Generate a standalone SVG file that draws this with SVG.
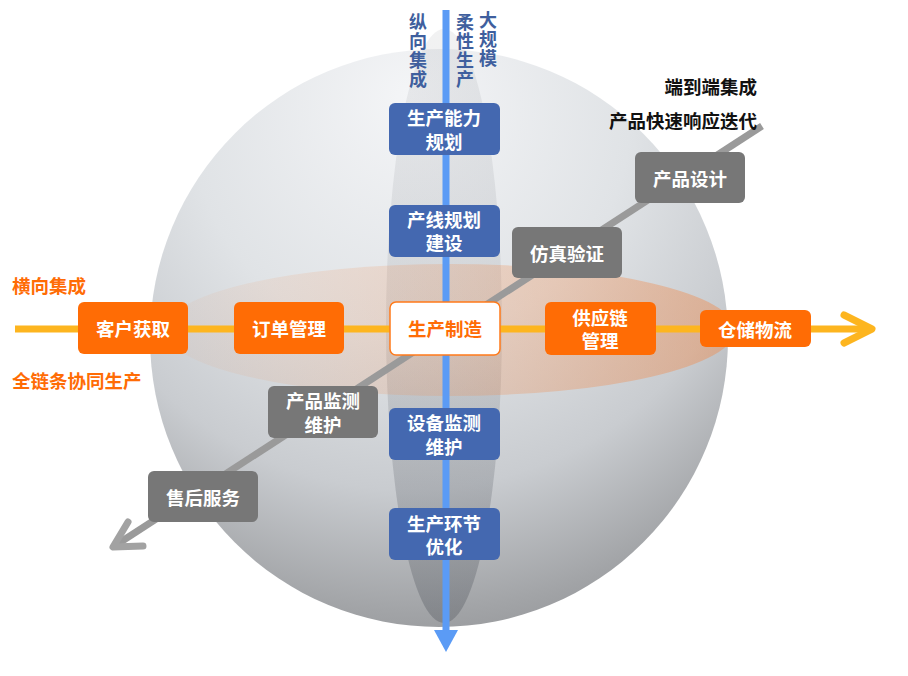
<svg xmlns="http://www.w3.org/2000/svg" width="908" height="676" viewBox="0 0 908 676">
  <defs>
    <radialGradient id="sphereGrad" cx="0.45" cy="0.18" r="0.95" fx="0.45" fy="0.08">
      <stop offset="0" stop-color="#f4f5f7"/>
      <stop offset="0.4" stop-color="#e0e3e6"/>
      <stop offset="0.65" stop-color="#c9ccd0"/>
      <stop offset="0.85" stop-color="#a2a4a7"/>
      <stop offset="1" stop-color="#88898c"/>
    </radialGradient>
    <linearGradient id="vGrad" x1="0" y1="0" x2="0" y2="1">
      <stop offset="0" stop-color="#3a3f48" stop-opacity="0.07"/>
      <stop offset="0.5" stop-color="#3a3f48" stop-opacity="0.1"/>
      <stop offset="1" stop-color="#3a3f48" stop-opacity="0.28"/>
    </linearGradient>
    <linearGradient id="hGrad" x1="0" y1="0" x2="1" y2="0">
      <stop offset="0" stop-color="#f08a4b" stop-opacity="0.05"/>
      <stop offset="0.5" stop-color="#f08a4b" stop-opacity="0.22"/>
      <stop offset="1" stop-color="#f08a4b" stop-opacity="0.45"/>
    </linearGradient>
    <style>
      text { font-family: "Liberation Sans", "Noto Sans CJK SC", sans-serif; font-weight: 700; font-size: 18.5px; }
      .nt { fill: #ffffff; text-anchor: middle; dominant-baseline: central; }
      .orange rect { fill: #ff6c05; }
      .blue rect { fill: #4468b0; }
      .gray rect { fill: #777777; }
      .center rect { fill: #ffffff; stroke: #ff7a1a; stroke-width: 1.5; }
      .center text { fill: #ff6c05; }
      .lblO { fill: #ff6c05; dominant-baseline: central; }
      .lblB { fill: #3f5f9e; writing-mode: vertical-rl; letter-spacing: 1px; font-size: 18px; font-family: "Noto Sans CJK SC", sans-serif; }
      .lblK { fill: #111111; text-anchor: end; dominant-baseline: central; }
    </style>
  </defs>

  <g id="sphere">
    <circle cx="439" cy="338" r="289" fill="url(#sphereGrad)"/>
  </g>
  <g id="vertical-disc">
    <ellipse cx="444" cy="326" rx="58" ry="297" fill="url(#vGrad)"/>
  </g>
  <g id="horizontal-disc">
    <ellipse cx="450" cy="330" rx="285" ry="66" fill="url(#hGrad)"/>
  </g>

  <g id="connectors" fill="none" stroke-linecap="round" stroke-linejoin="round">
    <line x1="762" y1="126" x2="116" y2="545" stroke="#9a9a9a" stroke-width="7" stroke-linecap="butt"/>
    <polyline points="128,522 113,547 143,546" stroke="#a2a2a2" stroke-width="7"/>
    <line x1="15" y1="329" x2="868" y2="329" stroke="#fdb51f" stroke-width="7" stroke-linecap="butt"/>
    <polyline points="844,315 872,329 844,343" stroke="#fdb51f" stroke-width="7"/>
    <line x1="446" y1="10" x2="446" y2="632" stroke="#5b9bf5" stroke-width="7" stroke-linecap="butt"/>
    <polygon points="434,630 458,630 446,652" fill="#5b9bf5" stroke="none"/>
  </g>

  <g id="labels">
    <text class="lblB" x="418" y="13">纵向集成</text>
    <text class="lblB" x="465" y="13">柔性生产</text>
    <text class="lblB" x="488" y="11">大规模</text>
    <text class="lblK" x="757" y="87">端到端集成</text>
    <text class="lblK" x="757" y="121">产品快速响应迭代</text>
    <text class="lblO" x="12" y="286">横向集成</text>
    <text class="lblO" x="12" y="381">全链条协同生产</text>
  </g>

  <g id="n-kehu" class="orange"><rect x="78" y="302" width="110" height="52" rx="6"/><text class="nt" x="133" y="329">客户获取</text></g>
  <g id="n-dingdan" class="orange"><rect x="234" y="302" width="110" height="52" rx="6"/><text class="nt" x="289" y="329">订单管理</text></g>
  <g id="n-zhizao" class="center"><rect x="390" y="302" width="110" height="53" rx="6"/><text class="nt" x="445" y="329">生产制造</text></g>
  <g id="n-gongying" class="orange"><rect x="545" y="302" width="111" height="53" rx="6"/><text class="nt" x="600" y="318">供应链<tspan x="600" dy="23">管理</tspan></text></g>
  <g id="n-cangchu" class="orange"><rect x="700" y="310" width="111" height="37" rx="6"/><text class="nt" x="755" y="330">仓储物流</text></g>

  <g id="n-nengli" class="blue"><rect x="389" y="103" width="111" height="52" rx="6"/><text class="nt" x="444" y="118.5">生产能力<tspan x="444" dy="23">规划</tspan></text></g>
  <g id="n-chanxian" class="blue"><rect x="389" y="205" width="111" height="52" rx="6"/><text class="nt" x="444" y="220">产线规划<tspan x="444" dy="23">建设</tspan></text></g>
  <g id="n-shebei" class="blue"><rect x="389" y="408" width="111" height="52" rx="6"/><text class="nt" x="444" y="423.5">设备监测<tspan x="444" dy="23">维护</tspan></text></g>
  <g id="n-huanjie" class="blue"><rect x="389" y="508" width="111" height="52" rx="6"/><text class="nt" x="444" y="524">生产环节<tspan x="444" dy="23">优化</tspan></text></g>

  <g id="n-sheji" class="gray"><rect x="635" y="152" width="110" height="51" rx="6"/><text class="nt" x="690" y="179">产品设计</text></g>
  <g id="n-fangzhen" class="gray"><rect x="512" y="227" width="110" height="51" rx="6"/><text class="nt" x="567" y="254">仿真验证</text></g>
  <g id="n-jiance" class="gray"><rect x="268" y="386" width="110" height="52" rx="6"/><text class="nt" x="323" y="401.5">产品监测<tspan x="323" dy="23">维护</tspan></text></g>
  <g id="n-shouhou" class="gray"><rect x="148" y="471" width="110" height="51" rx="6"/><text class="nt" x="203" y="498">售后服务</text></g>
</svg>
